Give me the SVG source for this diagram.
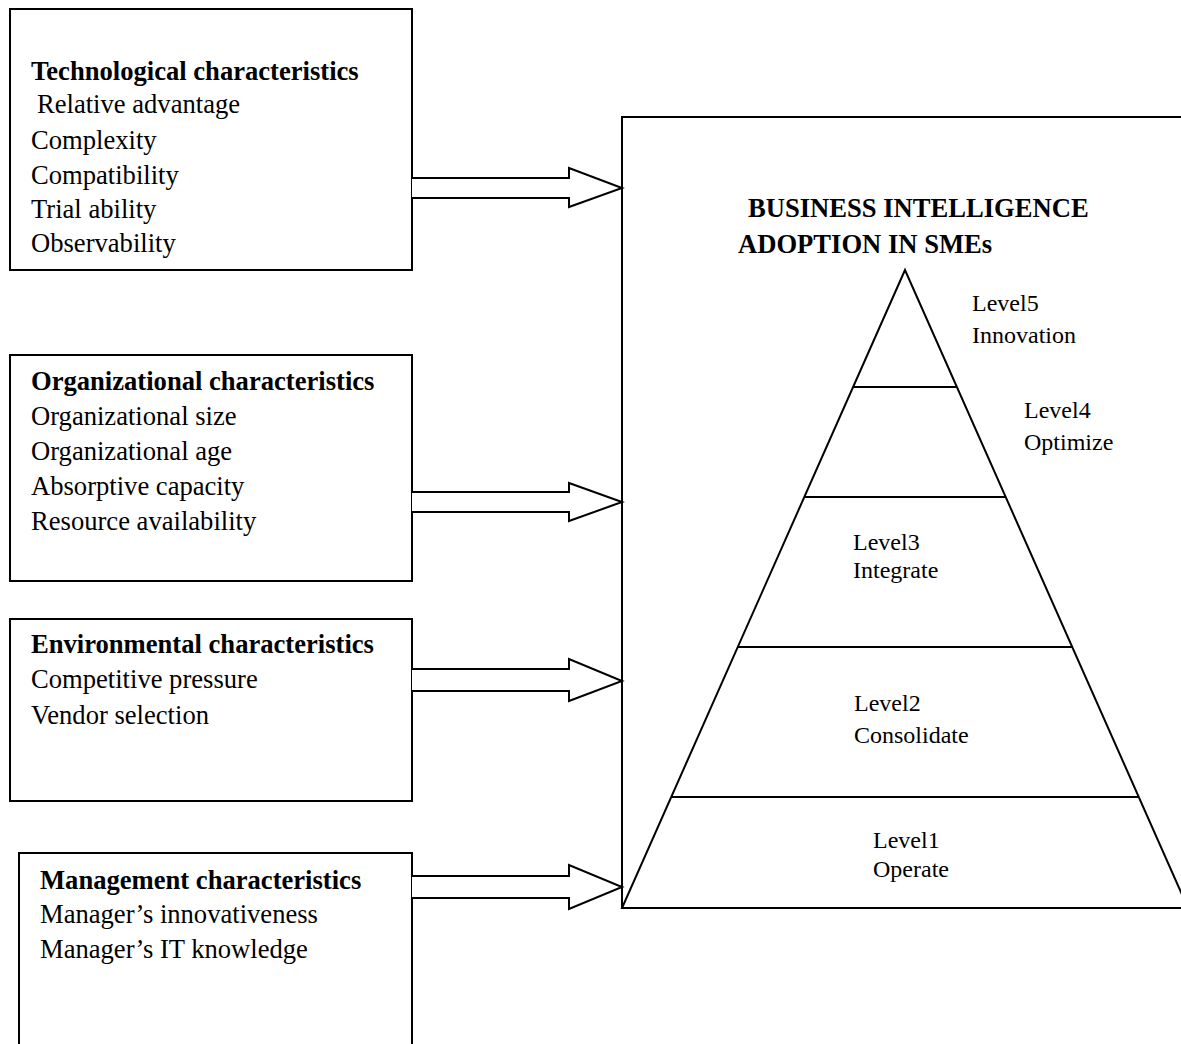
<svg xmlns="http://www.w3.org/2000/svg" width="1181" height="1044" viewBox="0 0 1181 1044">
<style>
.box{fill:#fff;stroke:#000;stroke-width:2}
.arr{fill:#fff;stroke:#000;stroke-width:2;stroke-linejoin:miter}
.ln{stroke:#000;stroke-width:2;fill:none}
text{font-family:"Liberation Serif","Times New Roman",serif;fill:#000}
.t{font-size:26.6px}
.h{font-size:26.6px;font-weight:bold}
.lv{font-size:24px}
</style>
<rect width="1181" height="1044" fill="#fff"/>
<g id="technological">
<rect class="box" x="10" y="9" width="402" height="261"/>
<text class="h" x="31" y="80">Technological characteristics</text>
<text class="t" x="37" y="113">Relative advantage</text>
<text class="t" x="31" y="149">Complexity</text>
<text class="t" x="31" y="184">Compatibility</text>
<text class="t" x="31" y="218">Trial ability</text>
<text class="t" x="31" y="252">Observability</text>
</g>
<g id="organizational">
<rect class="box" x="10" y="355" width="402" height="226"/>
<text class="h" x="31" y="390">Organizational characteristics</text>
<text class="t" x="31" y="425">Organizational size</text>
<text class="t" x="31" y="460">Organizational age</text>
<text class="t" x="31" y="495">Absorptive capacity</text>
<text class="t" x="31" y="530">Resource availability</text>
</g>
<g id="environmental">
<rect class="box" x="10" y="619" width="402" height="182"/>
<text class="h" x="31" y="653">Environmental characteristics</text>
<text class="t" x="31" y="688">Competitive pressure</text>
<text class="t" x="31" y="724">Vendor selection</text>
</g>
<g id="management">
<rect class="box" x="19" y="853" width="393" height="200"/>
<text class="h" x="40" y="889">Management characteristics</text>
<text class="t" x="40" y="923">Manager’s innovativeness</text>
<text class="t" x="40" y="958">Manager’s IT knowledge</text>
</g>
<g id="bi-adoption">
<rect class="box" x="622" y="117" width="600" height="791"/>
<text class="h" x="748" y="217">BUSINESS INTELLIGENCE</text>
<text class="h" x="738" y="253">ADOPTION IN SMEs</text>
<polygon class="ln" points="905,270 622,908 1188,908"/>
<line class="ln" x1="853" y1="387" x2="957" y2="387"/>
<line class="ln" x1="804" y1="497" x2="1006" y2="497"/>
<line class="ln" x1="738" y1="647" x2="1072" y2="647"/>
<line class="ln" x1="671" y1="797" x2="1139" y2="797"/>
<text class="lv" x="972" y="311">Level5</text>
<text class="lv" x="972" y="343">Innovation</text>
<text class="lv" x="1024" y="418">Level4</text>
<text class="lv" x="1024" y="450">Optimize</text>
<text class="lv" x="853" y="550">Level3</text>
<text class="lv" x="853" y="578">Integrate</text>
<text class="lv" x="854" y="711">Level2</text>
<text class="lv" x="854" y="743">Consolidate</text>
<text class="lv" x="873" y="848">Level1</text>
<text class="lv" x="873" y="877">Operate</text>
</g>
<g id="connectors">
<path class="arr" d="M412,178 H569 V168 L622,188 L569,207 V198 H412"/>
<path class="arr" d="M412,492 H569 V483 L622,502 L569,521 V512 H412"/>
<path class="arr" d="M412,669 H569 V659 L622,681 L569,701 V691 H412"/>
<path class="arr" d="M412,876 H569 V865 L622,887 L569,909 V898 H412"/>
</g>
</svg>
